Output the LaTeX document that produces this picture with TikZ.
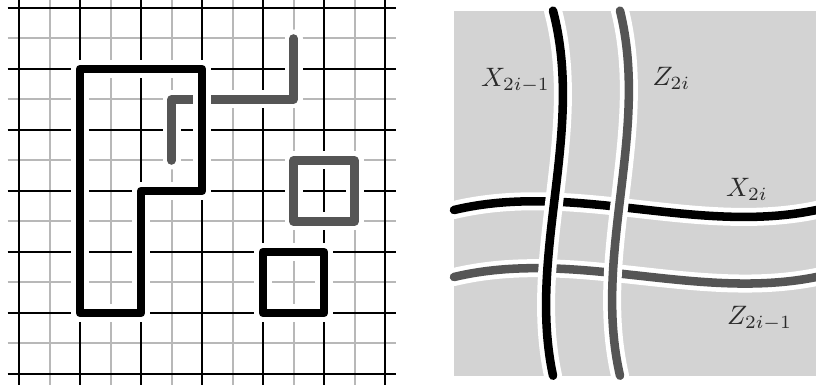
\documentclass[tikz,border=0pt]{standalone}
\definecolor{gridgray}{HTML}{B8B8B8}
\definecolor{linegray}{HTML}{555555}
\definecolor{panelgray}{HTML}{D3D3D3}
\definecolor{labelcol}{HTML}{2A2A2A}
\tikzset{
  gridthin/.style={gridgray, line width=0.75pt},
  gridbold/.style={black, line width=0.75pt},
  fatline/.style={preaction={draw=white, line width=6.75pt, line cap=round, line join=round},
                  line width=3.2pt, line cap=round, line join=round},
  fatblack/.style={fatline, draw=black},
  fatgray/.style={fatline, draw=linegray},
  lab/.style={anchor=base west, inner sep=0pt, text=labelcol}
}
\begin{document}
\begin{tikzpicture}[x=0.375pt,y=-0.375pt]
\useasboundingbox (0,0) rectangle (816,390);
% ---------- left panel: lattice ----------
\begin{scope}[xshift=7.125pt, yshift=-140.25pt, x=11.4375pt, y=11.4375pt]
  \foreach \k in {1,3,...,11} {
    \draw[gridthin] (\k,-0.36) -- (\k,12.45);
    \draw[gridthin] (-0.375,\k) -- (12.375,\k);
  }
  \foreach \k in {0,2,...,12} {
    \draw[gridbold] (\k,-0.36) -- (\k,12.45);
    \draw[gridbold] (-0.375,\k) -- (12.375,\k);
  }
  \draw[fatgray] (9,11) -- (9,9) -- (5,9) -- (5,7);
  \draw[fatgray] (9,5) rectangle (11,7);
  \draw[fatblack] (2,10) -- (6,10) -- (6,6) -- (4,6) -- (4,2) -- (2,2) -- cycle;
  \draw[fatblack] (8,2) rectangle (10,4);
\end{scope}
% ---------- right panel ----------
\fill[panelgray] (454,10.7) rectangle (819,375.7);
\draw[fatblack] (454,210) .. controls (575.7,181) and (697.3,236) .. (819,209.5);
\draw[fatgray]  (454,277) .. controls (575.7,248) and (697.3,302) .. (819,276.5);
\draw[fatblack] (553,10.7) .. controls (585,132.4) and (527,254) .. (553,375.7);
\draw[fatgray]  (620,10.7) .. controls (650,132.4) and (592,254) .. (620,375.7);
\node[lab] (x1) at (480.5,86.7) {$X_{2i-1}$};
\node[lab] (z2) at (652,86) {$Z_{2i}$};
\node[lab] (x2) at (725.5,196.7) {$X_{2i}$};
\node[lab] (z1) at (726.5,324.3) {$Z_{2i-1}$};
\end{tikzpicture}
\end{document}
